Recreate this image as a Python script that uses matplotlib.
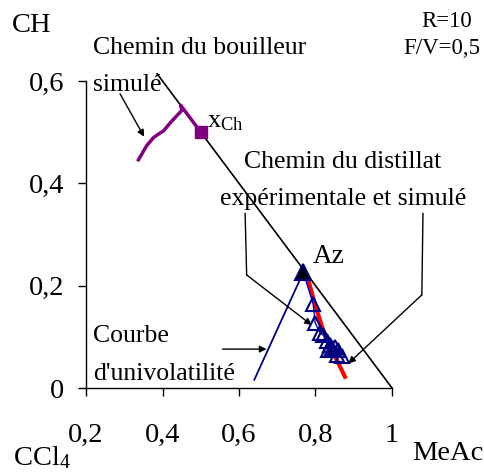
import matplotlib
matplotlib.use("Agg")
import matplotlib.pyplot as plt

plt.rcParams['font.family'] = ['Liberation Serif', 'DejaVu Serif']
plt.rcParams['mathtext.fontset'] = 'custom'
plt.rcParams['mathtext.rm'] = 'Liberation Serif'
plt.rcParams['mathtext.it'] = 'Liberation Serif'

# ---- data ----
x_ticks = [0.2, 0.4, 0.6, 0.8, 1.0]
x_tick_labels = ["0,2", "0,4", "0,6", "0,8", "1"]
y_ticks = [0.0, 0.2, 0.4, 0.6]
y_tick_labels = ["0", "0,2", "0,4", "0,6"]

edge_x = [0.386, 1.0]
edge_y = [0.614, 0.0]

boiler_x = [0.500, 0.447, 0.451, 0.420, 0.402, 0.393, 0.376, 0.359, 0.337]
boiler_y = [0.500, 0.553, 0.543, 0.518, 0.502, 0.498, 0.489, 0.474, 0.446]

xch = (0.5, 0.5)
az = (0.768, 0.226)

univol_x = [0.640, 0.768]
univol_y = [0.016, 0.226]

exp_x = [0.768, 0.794, 0.799, 0.812, 0.820, 0.829, 0.833, 0.838, 0.842, 0.851, 0.860, 0.855, 0.868]
exp_y = [0.226, 0.164, 0.128, 0.107, 0.104, 0.091, 0.074, 0.084, 0.078, 0.080, 0.074, 0.065, 0.063]

sim_x = [0.770, 0.781, 0.800, 0.820, 0.845, 0.862, 0.877]
sim_y = [0.222, 0.211, 0.160, 0.113, 0.072, 0.045, 0.022]

W, H = 485, 473
TICK_FS = 20.5
ANN_FS = 18.5
fig = plt.figure(figsize=(W / 100, H / 100), dpi=100)
ax = fig.add_axes([86 / W, 1 - 388 / H, (392 - 86) / W, (388 - 81) / H])
ax.set_xlim(0.2, 1.0)
ax.set_ylim(0.0, 0.6)
for s in ['top', 'right']:
    ax.spines[s].set_visible(False)
for s in ['left', 'bottom']:
    ax.spines[s].set_linewidth(1.0)
ax.set_xticks(x_ticks)
ax.set_xticklabels(x_tick_labels)
ax.set_yticks(y_ticks)
ax.set_yticklabels(y_tick_labels)
ax.tick_params(axis='x', direction='out', length=5.8, width=1, labelsize=TICK_FS, pad=19.5)
ax.tick_params(axis='y', direction='out', length=5.8, width=1, labelsize=TICK_FS, pad=10)

ax.plot(edge_x, edge_y, color='black', lw=1.2, clip_on=False, zorder=2)
ax.plot(boiler_x, boiler_y, color='#800080', lw=2.5, clip_on=False, zorder=3)
ax.plot([xch[0]], [xch[1]], marker='s', color='#800080', ms=8, clip_on=False, zorder=4)
ax.plot(univol_x, univol_y, color='#000080', lw=1.3, zorder=3)
ax.plot(sim_x, sim_y, color='#FF0000', lw=3, zorder=3)
ax.plot(exp_x, exp_y, color='#0000CC', lw=1.0, zorder=4)
ax.plot(exp_x[1:], exp_y[1:], ls='none', marker='^', ms=10, mfc='none', mec='#000080', mew=1.5, zorder=5)
ax.plot([az[0]], [az[1]], marker='^', ms=11, mfc='black', mec='#000080', mew=1.5, zorder=6)

arrow_kw = dict(arrowstyle='-|>', color='black', lw=1.0, mutation_scale=10, shrinkA=0, shrinkB=0)
# simulé arrow
ax.annotate('', xy=(0.352, 0.491), xytext=(0.289, 0.575), arrowprops=arrow_kw, annotation_clip=False)
# left distillate polyline
ax.plot([0.616, 0.620], [0.341, 0.221], color='black', lw=1.0, clip_on=False)
ax.annotate('', xy=(0.790, 0.123), xytext=(0.620, 0.221), arrowprops=arrow_kw, annotation_clip=False)
# right distillate polyline
ax.plot([1.081, 1.078], [0.341, 0.182], color='black', lw=1.0, clip_on=False)
ax.annotate('', xy=(0.886, 0.048), xytext=(1.078, 0.182), arrowprops=arrow_kw, annotation_clip=False)
# univolatility arrow
ax.annotate('', xy=(0.672, 0.076), xytext=(0.557, 0.076), arrowprops=arrow_kw, annotation_clip=False)


def ftext(px, py, s, fs=ANN_FS, **kw):
    fig.text(px / W, 1 - py / H, s, fontsize=fs, va='baseline', **kw)


ftext(93, 54, "Chemin du bouilleur")
ftext(93, 91, "simulé")
ftext(207, 127, r"x$_{\mathrm{Ch}}$", fs=19)
ftext(343, 168, "Chemin du distillat", ha='center')
ftext(343, 205, "expérimentale et simulé", ha='center')
ftext(313, 263, "Az", fs=19.5)
ftext(93, 342, "Courbe")
ftext(93, 380, "d'univolatilité")
ftext(12, 32, "CH", fs=TICK_FS)
ftext(13, 465, r"CCl$_{4}$", fs=TICK_FS)
ftext(412, 460, "MeAc", fs=TICK_FS)
ftext(472, 27, "R=10", fs=16.5, ha='right')
ftext(480, 54, "F/V=0,5", fs=16.5, ha='right')

fig.savefig("out.png", dpi=100)
